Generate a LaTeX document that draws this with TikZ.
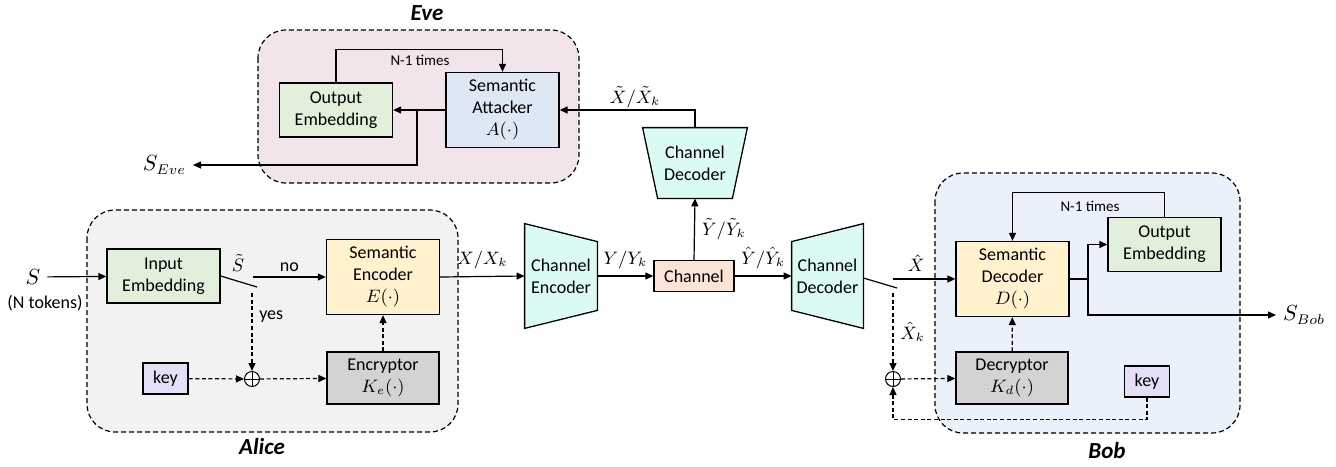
\documentclass[tikz,border=0pt]{standalone}
\usepackage{fontspec}
\setmainfont{Carlito}
\usepackage{tikz}
\usetikzlibrary{arrows.meta,calc,backgrounds}

\definecolor{embgreen}{HTML}{E2EFDA}
\definecolor{semyellow}{HTML}{FFF2CC}
\definecolor{attblue}{HTML}{DEE8F5}
\definecolor{cryptgray}{HTML}{D3D3D3}
\definecolor{keypurple}{HTML}{E5DEF7}
\definecolor{chanpeach}{HTML}{FBE3D6}
\definecolor{chancyan}{HTML}{D9FBF3}
\definecolor{alicebg}{HTML}{F2F2F2}
\definecolor{evebg}{HTML}{F1E4EB}
\definecolor{bobbg}{HTML}{EBF1FA}

\begin{document}
\begin{tikzpicture}[x=.5pt,y=-.5pt,
    blk/.style={draw,line width=.65pt,align=center,inner sep=1pt,
    font=\fontsize{9}{11}\selectfont},
    emb/.style={blk,fill=embgreen,minimum width=56.5pt,minimum height=27pt},
    sem/.style={blk,fill=semyellow,minimum width=56.5pt,minimum height=37.5pt},
    crypt/.style={blk,fill=cryptgray,minimum width=56pt,minimum height=26pt},
    keybox/.style={blk,fill=keypurple,minimum width=22.5pt,minimum height=15.5pt},
    chan/.style={align=center,inner sep=0pt,font=\fontsize{9}{11}\selectfont},
    trap/.style={draw,line width=.65pt,fill=chancyan},
    xor/.style={draw,circle,line width=.5pt,fill=white,minimum size=7.5pt,inner sep=0pt,
    path picture={\draw[line width=.4pt] (path picture bounding box.north) -- (path picture bounding box.south)
      (path picture bounding box.west) -- (path picture bounding box.east);}},
    group/.style={draw,line width=.6pt,dash pattern=on 2.5pt off 1.5pt,rounded corners=14pt},
    lbl/.style={font=\fontsize{9}{11}\selectfont},
    big/.style={font=\fontsize{10.5}{12}\selectfont},
    who/.style={font=\fontsize{11.5}{13}\selectfont\bfseries\itshape},
    note/.style={font=\fontsize{7.5}{9}\selectfont},
    line/.style={line width=.6pt},
    arr/.style={line,-{Triangle[length=4pt,width=3.5pt]}},
    darr/.style={arr,dash pattern=on 2pt off 1.3pt}]

  \useasboundingbox (0,0) rectangle (1336,466);

  % the three parties
  \draw[group,fill=evebg] (258,30) rectangle (579,183);
  \draw[group,fill=alicebg] (87,210) rectangle (458,432);
  \draw[group,fill=bobbg] (935,173) rectangle (1240,433);

  \node[who] (eve) at (427,13) {Eve};
  \node[who] (alice) at (262,447) {Alice};
  \node[who] (bob) at (1107,451) {Bob};

  % Eve
  \node[emb] (oute) at (336,110) {Output\\Embedding};
  \node[sem,fill=attblue] (att) at (502.5,110) {Semantic\\Attacker\\$A(\cdot)$};
  \node[big,anchor=east] (seve) at (193,165) {$S_{Eve}$};
  \coordinate (ej) at (417,110);

  \draw[arr] (att.west) -- (oute.east);
  \draw[arr] (ej) |- (seve.east);
  \draw[arr] (oute.north) -- ++(0,-33) -| (att.north);
  \node[note] (nte) at (420,60) {N-1 times};

  \node[chan,minimum width=52pt,minimum height=35pt] (cdt) at (695,163) {Channel\\Decoder};
  \draw[arr] (cdt.north) |- (att.east);
  \node[lbl] (xt) at (635,97) {$\tilde{X}/\tilde{X}_k$};

  % Alice
  \node[big] (s) at (33,277) {$S$};
  \node[lbl] (ntok) at (45,303) {(N tokens)};
  \node[emb] (inemb) at (163.5,276) {Input\\Embedding};
  \node[sem] (senc) at (383,277) {Semantic\\Encoder\\$E(\cdot)$};
  \node[crypt] (encr) at (383,378) {Encryptor\\$K_e(\cdot)$};
  \node[keybox] (keya) at (165.5,378.5) {key};
  \node[xor] (xa) at (252,379) {};
  \coordinate (swa) at (257,287);
  \coordinate (noa) at (253,277);
  \coordinate (yesa) at (252,293);

  \draw[arr] (s) -- (inemb);
  \draw[line] (inemb.east) -- (swa);
  \node[lbl] (stil) at (238,263) {$\tilde{S}$};
  \draw[arr] (noa) -- (senc.west) node[lbl,midway,above=-1pt] {no};
  \draw[darr] (yesa) -- (xa.north) node[lbl,pos=.3,right] {yes};
  \draw[darr] (keya) -- (xa);
  \draw[darr] (xa) -- (encr);
  \draw[darr] (encr) -- (senc);

  % channel
  \node[chan,minimum width=36pt,minimum height=52pt] (chenc) at (561,276) {Channel\\Encoder};
  \node[blk,fill=chanpeach,minimum width=40pt,minimum height=15.5pt] (chan) at (694,276) {Channel};
  \node[chan,minimum width=35.5pt,minimum height=52pt] (chdec) at (827.5,276) {Channel\\Decoder};

  \begin{scope}[on background layer]
    \draw[trap] (chenc.north west) -- ([yshift=-9pt]chenc.north east)
      -- ([yshift=9pt]chenc.south east) -- (chenc.south west) -- cycle;
    \draw[trap] ([yshift=-9pt]chdec.north west) -- (chdec.north east)
      -- (chdec.south east) -- ([yshift=9pt]chdec.south west) -- cycle;
    \draw[trap] (cdt.north west) -- (cdt.north east)
      -- ([xshift=-7.5pt]cdt.south east) -- ([xshift=7.5pt]cdt.south west) -- cycle;
  \end{scope}

  \draw[arr] (senc.east) -- (chenc.west) node[lbl,midway,above] {$X/X_k$};
  \draw[arr] (chenc.east) -- (chan.west) node[lbl,midway,above] {$Y/Y_k$};
  \draw[arr] (chan.east) -- (chdec.west) node[lbl,midway,above] {$\hat{Y}/\hat{Y}_k$};
  \draw[arr] (chan.north) -- (cdt.south) node[lbl,midway,right] {$\tilde{Y}/\tilde{Y}_k$};

  % Bob
  \node[sem] (sdec) at (1012.5,279) {Semantic\\Decoder\\$D(\cdot)$};
  \node[crypt] (decr) at (1012,378) {Decryptor\\$K_d(\cdot)$};
  \node[emb] (outb) at (1164.5,244.5) {Output\\Embedding};
  \node[keybox] (keyb) at (1147,381.5) {key};
  \node[xor] (xb) at (893,379) {};
  \node[big,anchor=west] (sbob) at (1276,315) {$S_{Bob}$};
  \coordinate (swb) at (897,288);
  \coordinate (xhat) at (893,279);
  \coordinate (xk) at (893,293);
  \coordinate (bj) at (1088,279);

  \draw[line] ([yshift=-1pt]chdec.east) -- (swb);
  \draw[arr] (xhat) -- (sdec.west) node[lbl,midway,above,xshift=-4pt] {$\hat{X}$};
  \draw[darr] (xk) -- (xb.north) node[lbl,midway,right] {$\hat{X}_k$};
  \draw[darr] (xb) -- (decr);
  \draw[darr] (decr) -- (sdec);
  \draw[darr] (keyb.south) -- ++(0,22) -| (xb.south);
  \draw[line] (sdec.east) -- (bj);
  \draw[arr] (bj) |- (outb.west);
  \draw[arr] (bj) |- (sbob.west);
  \draw[arr] (outb.north) -- ++(0,-24) -| (sdec.north);
  \node[note] (ntb) at (1090,206) {N-1 times};

\end{tikzpicture}
\end{document}
